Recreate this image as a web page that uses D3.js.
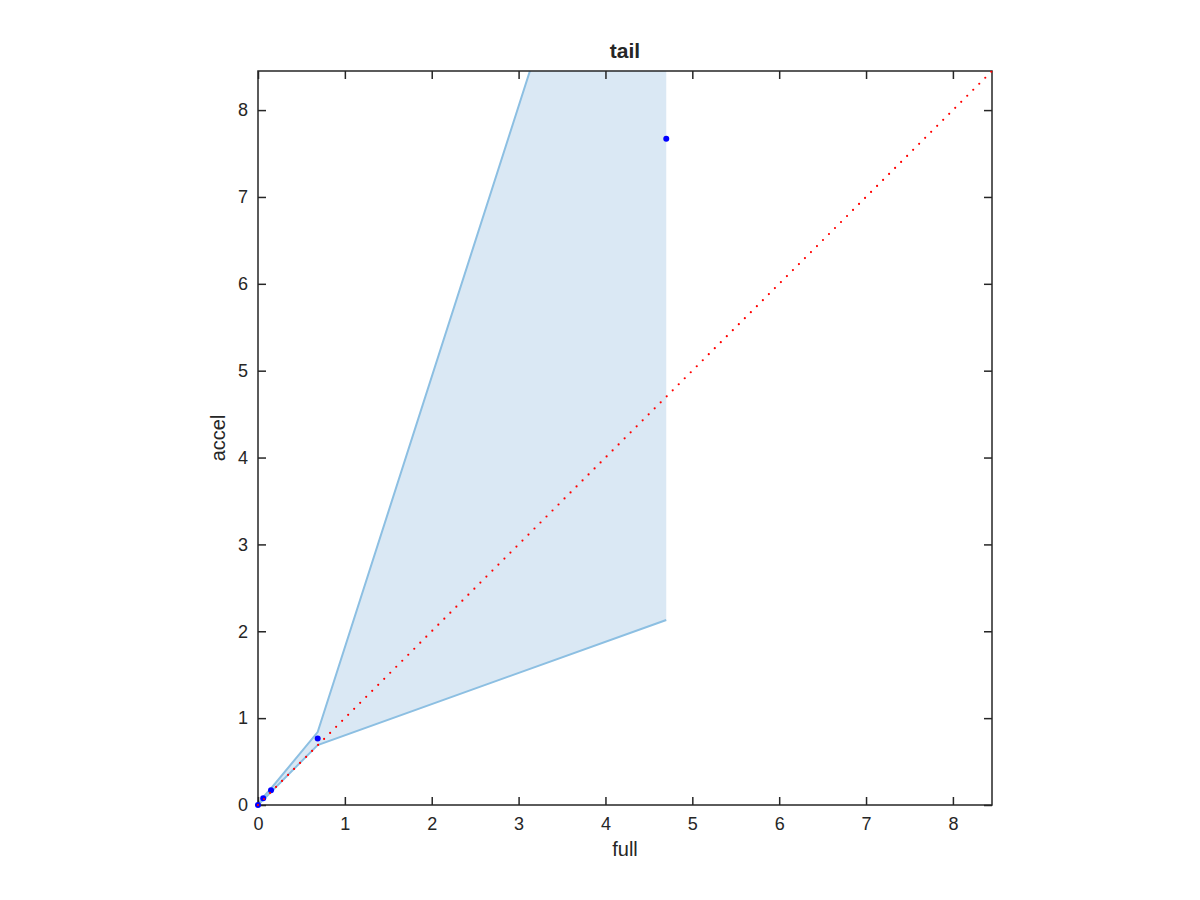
<!DOCTYPE html>
<html>
<head>
<meta charset="utf-8">
<script src="https://cdn.jsdelivr.net/npm/d3@7"></script>
<style>
  body { margin: 0; background: #fff; }
  text { font-family: "Liberation Sans", Arial, Helvetica, sans-serif; fill: #262626; }
</style>
</head>
<body>
<svg id="chart" width="1200" height="900"></svg>
<script>
// data
var full_vals  = [0, 0.06, 0.15, 0.687, 4.70];
var accel_vals = [0, 0.077, 0.17, 0.767, 7.67];
var upper_vals = [0, 0.09, 0.19, 0.84, 13.34];
var lower_vals = [0, 0.06, 0.15, 0.69, 2.13];
var tick_vals  = [0, 1, 2, 3, 4, 5, 6, 7, 8];
var axis_max   = 8.45;

var MARGIN = { left: 258, top: 71, right: 208, bottom: 95 };
var width  = 1200 - MARGIN.left - MARGIN.right;
var height = 900 - MARGIN.top - MARGIN.bottom;

var svg = d3.select( "#chart" );

var x = d3.scaleLinear().domain( [ 0, axis_max ] ).range( [ 0, width ] );
var y = d3.scaleLinear().domain( [ 0, axis_max ] ).range( [ height, 0 ] );

svg.append( "defs" ).append( "clipPath" )
  .attr( "id", "plot-clip" )
  .append( "rect" )
  .attr( "width", width )
  .attr( "height", height );

var g = svg.append( "g" )
  .attr( "transform", "translate(" + MARGIN.left + "," + MARGIN.top + ")" );

var plot = g.append( "g" ).attr( "clip-path", "url(#plot-clip)" );

var band = full_vals.map( function( d, i ){
  return { x: d, lo: lower_vals[ i ], hi: upper_vals[ i ] };
} );

plot.append( "path" )
  .datum( band )
  .attr( "fill", "#dae8f4" )
  .attr( "d", d3.area()
    .x( function( d ){ return x( d.x ); } )
    .y0( function( d ){ return y( d.lo ); } )
    .y1( function( d ){ return y( d.hi ); } ) );

[ "hi", "lo" ].forEach( function( key ){
  plot.append( "path" )
    .datum( band )
    .attr( "fill", "none" )
    .attr( "stroke", "#8cbfe2" )
    .attr( "stroke-width", 2 )
    .attr( "d", d3.line()
      .x( function( d ){ return x( d.x ); } )
      .y( function( d ){ return y( d[ key ] ); } ) );
} );

// axes, ticks inward on all four sides
function styleAxis( sel ){
  sel.select( ".domain" ).remove();
  sel.selectAll( ".tick line" ).attr( "stroke", "#262626" ).attr( "stroke-width", 1.5 );
  sel.selectAll( ".tick text" ).style( "font-size", "18px" ).attr( "fill", "#262626" );
}

g.append( "g" )
  .attr( "transform", "translate(0," + height + ")" )
  .call( d3.axisBottom( x ).tickValues( tick_vals ).tickFormat( d3.format( "d" ) ).tickSizeInner( -8 ).tickPadding( 12 ) )
  .call( styleAxis );

g.append( "g" )
  .call( d3.axisTop( x ).tickValues( tick_vals ).tickFormat( "" ).tickSizeInner( -8 ) )
  .call( styleAxis );

g.append( "g" )
  .call( d3.axisLeft( y ).tickValues( tick_vals ).tickFormat( d3.format( "d" ) ).tickSizeInner( -8 ).tickPadding( 10 ) )
  .call( styleAxis );

g.append( "g" )
  .attr( "transform", "translate(" + width + ",0)" )
  .call( d3.axisRight( y ).tickValues( tick_vals ).tickFormat( "" ).tickSizeInner( -8 ) )
  .call( styleAxis );

g.append( "rect" )
  .attr( "width", width )
  .attr( "height", height )
  .attr( "fill", "none" )
  .attr( "stroke", "#262626" )
  .attr( "stroke-width", 1.5 );

// points sit above the box, not clipped
g.selectAll( ".pt" )
  .data( full_vals )
  .enter()
  .append( "circle" )
  .attr( "class", "pt" )
  .attr( "cx", function( d ){ return x( d ); } )
  .attr( "cy", function( d, i ){ return y( accel_vals[ i ] ); } )
  .attr( "r", 3 )
  .attr( "fill", "#0000ff" );

// y = x reference, round dots
g.append( "line" )
  .attr( "x1", x( 0 ) ).attr( "y1", y( 0 ) )
  .attr( "x2", x( axis_max ) ).attr( "y2", y( axis_max ) )
  .attr( "stroke", "#ff0000" )
  .attr( "stroke-width", 2.2 )
  .attr( "stroke-linecap", "round" )
  .attr( "stroke-dasharray", "0,8.5" );

g.append( "text" )
  .attr( "x", width / 2 )
  .attr( "y", -13 )
  .attr( "text-anchor", "middle" )
  .style( "font-size", "21px" )
  .style( "font-weight", "bold" )
  .attr( "fill", "#000" )
  .text( "tail" );

g.append( "text" )
  .attr( "x", width / 2 )
  .attr( "y", height + 51 )
  .attr( "text-anchor", "middle" )
  .style( "font-size", "20px" )
  .text( "full" );

g.append( "text" )
  .attr( "transform", "translate(-33," + ( height / 2 ) + ") rotate(-90)" )
  .attr( "text-anchor", "middle" )
  .style( "font-size", "20px" )
  .text( "accel" );
</script>
</body>
</html>
